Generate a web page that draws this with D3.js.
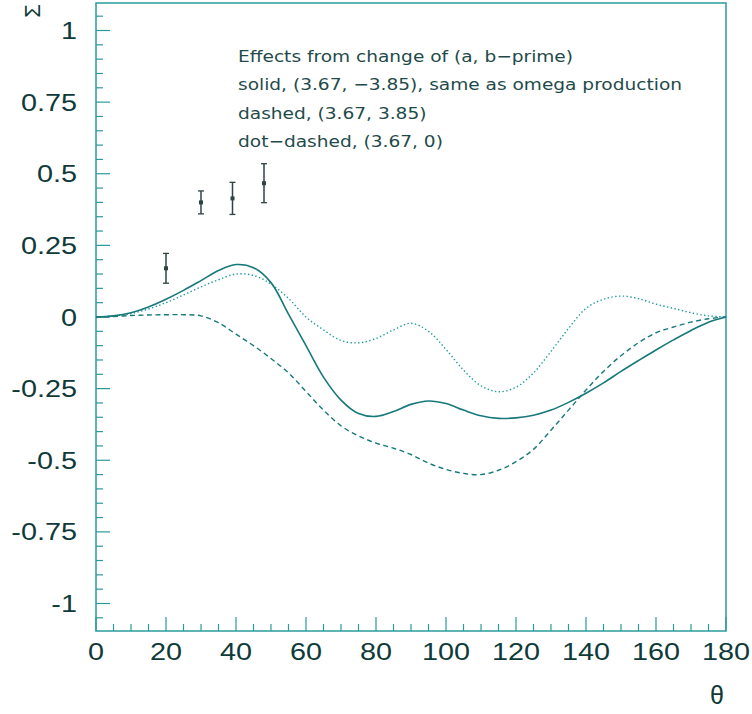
<!DOCTYPE html>
<html>
<head>
<meta charset="utf-8">
<script src="https://cdn.jsdelivr.net/npm/d3@7"></script>
<style>
    body { margin: 0; background: #fff; }
    .tickLabel { font-family: 'Liberation Sans', Arial, sans-serif; font-size: 24px; fill: #0f3a3a; }
    .legend { font-family: 'DejaVu Sans', sans-serif; font-size: 16px; fill: #1f4a4a; }
    .axisTitle { font-family: 'Liberation Sans', Arial, sans-serif; font-size: 22px; fill: #0f3a3a; }
</style>
</head>
<body>
<div id="chart"></div>
<script>
var width = 752;
var height = 714;

var FRAME_LEFT = 96;
var FRAME_RIGHT = 726;
var FRAME_TOP = 3;
var FRAME_BOTTOM = 631;

var COLOR_FRAME = '#2a9a9a';
var COLOR_CURVE = '#17797a';
var COLOR_DOTTED = '#1f9a9c';
var COLOR_DATA = '#2c4444';

var TICK_MAJOR = 14;
var TICK_MINOR = 7;
var TEXT_STRETCH = 1.2;

// angle grid (degrees) shared by the three curves
var theta = [0, 5, 10, 15, 20, 25, 30, 35, 40, 45, 50, 55, 60, 65, 70, 75, 80, 85, 90,
    95, 100, 105, 110, 115, 120, 125, 130, 135, 140, 145, 150, 155, 160, 165, 170, 175, 180];

// solid, (3.67, -3.85)
var solidValues = [0, 0.004, 0.015, 0.035, 0.062, 0.093, 0.127, 0.162, 0.183, 0.172, 0.12, 0.01,
    -0.10, -0.21, -0.29, -0.337, -0.347, -0.33, -0.305, -0.293, -0.302, -0.325, -0.345, -0.354,
    -0.352, -0.343, -0.325, -0.298, -0.266, -0.23, -0.19, -0.152, -0.115, -0.08, -0.047, -0.018, 0];

// dashed, (3.67, 3.85)
var dashedValues = [0, 0.002, 0.005, 0.007, 0.008, 0.008, 0.004, -0.02, -0.06, -0.10, -0.145,
    -0.195, -0.26, -0.325, -0.38, -0.415, -0.44, -0.458, -0.48, -0.51, -0.532, -0.546, -0.55,
    -0.535, -0.505, -0.462, -0.395, -0.325, -0.255, -0.19, -0.135, -0.09, -0.055, -0.035, -0.018, -0.006, 0];

// dot-dashed, (3.67, 0)
var dottedValues = [0, 0.003, 0.012, 0.028, 0.05, 0.077, 0.105, 0.13, 0.15, 0.145, 0.115, 0.065,
    0.0, -0.045, -0.082, -0.09, -0.075, -0.045, -0.022, -0.05, -0.113, -0.185, -0.24, -0.261,
    -0.245, -0.195, -0.12, -0.04, 0.03, 0.062, 0.073, 0.064, 0.045, 0.03, 0.015, 0.004, 0];

// measured points with errors
var dataTheta = [20, 30, 39, 48];
var dataSigma = [0.17, 0.40, 0.414, 0.467];
var dataError = [0.052, 0.04, 0.056, 0.068];

var xTicks = [0, 20, 40, 60, 80, 100, 120, 140, 160, 180];
var yTicks = [-1, -0.75, -0.5, -0.25, 0, 0.25, 0.5, 0.75, 1];
var yTickLabels = ['-1', '-0.75', '-0.5', '-0.25', '0', '0.25', '0.5', '0.75', '1'];

var legendLines = [
    'Effects from change of (a, b\u2212prime)',
    'solid, (3.67, \u22123.85), same as omega production',
    'dashed, (3.67, 3.85)',
    'dot\u2212dashed, (3.67, 0)'
];

var svg = d3.select('#chart')
    .append('svg')
    .attr('width', width)
    .attr('height', height);

var x = d3.scaleLinear()
    .domain([0, 180])
    .range([FRAME_LEFT, FRAME_RIGHT]);

var y = d3.scaleLinear()
    .domain([-1.096, 1.096])
    .range([FRAME_BOTTOM, FRAME_TOP]);

// stretch a text horizontally, the plot font is wider than ours
var stretch = function (sel, factor) {
    sel.each(function () {
        var w = this.getComputedTextLength();
        d3.select(this)
            .attr('textLength', w * factor)
            .attr('lengthAdjust', 'spacingAndGlyphs');
    });
}

// frame
svg.append('rect')
    .attr('x', FRAME_LEFT)
    .attr('y', FRAME_TOP)
    .attr('width', FRAME_RIGHT - FRAME_LEFT)
    .attr('height', FRAME_BOTTOM - FRAME_TOP)
    .attr('fill', 'none')
    .attr('stroke', COLOR_FRAME)
    .attr('stroke-width', 1.5);

// x ticks, inward
var xAll = d3.range(0, 181, 5);
svg.selectAll('.xtick')
    .data(xAll)
    .enter().append('line')
    .attr('x1', function (d) { return x(d); })
    .attr('x2', function (d) { return x(d); })
    .attr('y1', FRAME_BOTTOM)
    .attr('y2', function (d) { return FRAME_BOTTOM - (d % 20 == 0 ? TICK_MAJOR : TICK_MINOR); })
    .attr('stroke', COLOR_FRAME)
    .attr('stroke-width', 1.2);

// y ticks, inward
var yAll = d3.range(-21, 22).map(function (i) { return i * 0.05; });
svg.selectAll('.ytick')
    .data(yAll)
    .enter().append('line')
    .attr('x1', FRAME_LEFT)
    .attr('x2', function (d) {
        var major = Math.abs(Math.round(d * 20) % 5) == 0;
        return FRAME_LEFT + (major ? TICK_MAJOR : TICK_MINOR);
    })
    .attr('y1', function (d) { return y(d); })
    .attr('y2', function (d) { return y(d); })
    .attr('stroke', COLOR_FRAME)
    .attr('stroke-width', 1.2);

// tick labels
svg.selectAll('.xlabel')
    .data(xTicks)
    .enter().append('text')
    .attr('class', 'tickLabel')
    .attr('x', function (d) { return x(d); })
    .attr('y', FRAME_BOTTOM + 29)
    .attr('text-anchor', 'middle')
    .text(function (d) { return d; })
    .call(stretch, TEXT_STRETCH);

svg.selectAll('.ylabel')
    .data(yTicks)
    .enter().append('text')
    .attr('class', 'tickLabel')
    .attr('x', FRAME_LEFT - 19)
    .attr('y', function (d) { return y(d) + 8.5; })
    .attr('text-anchor', 'end')
    .text(function (d, i) { return yTickLabels[i]; })
    .call(stretch, TEXT_STRETCH);

// axis titles
svg.append('text')
    .attr('class', 'axisTitle')
    .attr('transform', 'translate(40,11) rotate(-90)')
    .attr('text-anchor', 'middle')
    .text('\u03a3');

svg.append('text')
    .attr('class', 'axisTitle')
    .attr('x', 717)
    .attr('y', 704)
    .attr('text-anchor', 'middle')
    .style('font-size', '25px')
    .text('\u03b8');

// curves
var line = d3.line()
    .x(function (d) { return x(d[0]); })
    .y(function (d) { return y(d[1]); })
    .curve(d3.curveCatmullRom.alpha(0.5));

var zip = function (vals) {
    return theta.map(function (t, i) { return [t, vals[i]]; });
}

svg.append('path')
    .datum(zip(dottedValues))
    .attr('fill', 'none')
    .attr('stroke', COLOR_DOTTED)
    .attr('stroke-width', 1.4)
    .attr('stroke-dasharray', '1.4,2.4')
    .attr('d', line);

svg.append('path')
    .datum(zip(dashedValues))
    .attr('fill', 'none')
    .attr('stroke', COLOR_CURVE)
    .attr('stroke-width', 1.4)
    .attr('stroke-dasharray', '5,3.5')
    .attr('d', line);

svg.append('path')
    .datum(zip(solidValues))
    .attr('fill', 'none')
    .attr('stroke', COLOR_CURVE)
    .attr('stroke-width', 1.6)
    .attr('d', line);

// data points with error bars
var pts = dataTheta.map(function (t, i) {
    return { t: t, v: dataSigma[i], e: dataError[i] };
});

var gp = svg.selectAll('.pt')
    .data(pts)
    .enter().append('g');

gp.append('line')
    .attr('x1', function (d) { return x(d.t); })
    .attr('x2', function (d) { return x(d.t); })
    .attr('y1', function (d) { return y(d.v - d.e); })
    .attr('y2', function (d) { return y(d.v + d.e); })
    .attr('stroke', COLOR_DATA)
    .attr('stroke-width', 1.5);

[-1, 1].forEach(function (s) {
    gp.append('line')
        .attr('x1', function (d) { return x(d.t) - 3; })
        .attr('x2', function (d) { return x(d.t) + 3; })
        .attr('y1', function (d) { return y(d.v + s * d.e); })
        .attr('y2', function (d) { return y(d.v + s * d.e); })
        .attr('stroke', COLOR_DATA)
        .attr('stroke-width', 1.3);
});

gp.append('rect')
    .attr('x', function (d) { return x(d.t) - 2; })
    .attr('y', function (d) { return y(d.v) - 2; })
    .attr('width', 4)
    .attr('height', 4)
    .attr('fill', COLOR_DATA);

// legend text
var legend = svg.append('g');
legend.selectAll('text')
    .data(legendLines)
    .enter().append('text')
    .attr('class', 'legend')
    .attr('x', 238)
    .attr('y', function (d, i) { return 62 + i * 28.3; })
    .text(function (d) { return d; });

// scale all legend lines by the same factor so the longest one fits its width
var w2 = legend.selectAll('text').nodes()[1].getComputedTextLength();
legend.selectAll('text').call(stretch, 444 / w2);
</script>
</body>
</html>
